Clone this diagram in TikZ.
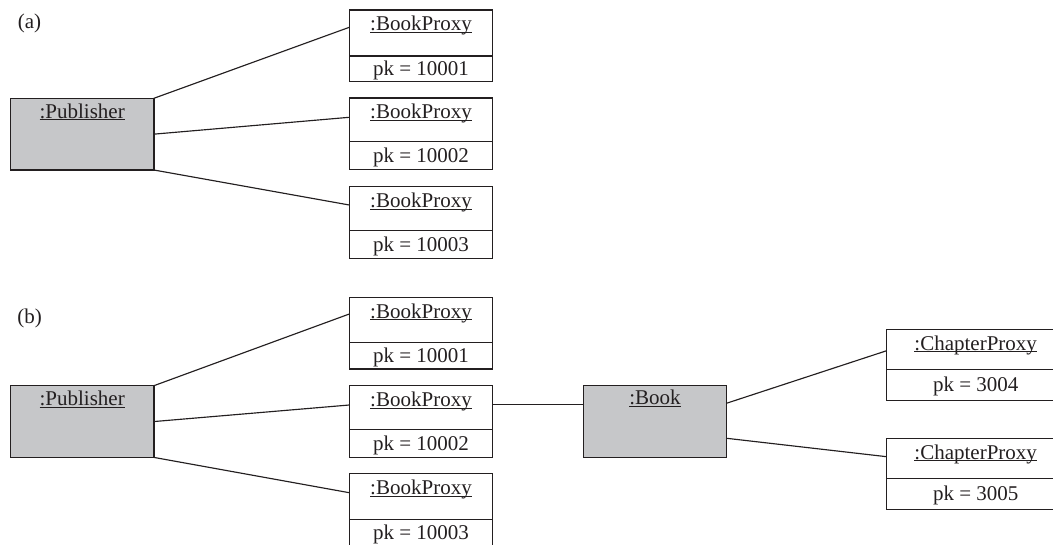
\documentclass[tikz,border=0pt]{standalone}
\usepackage{fontspec}
\setmainfont{Liberation Serif}
\usetikzlibrary{calc}

\definecolor{ink}{RGB}{35,31,32}
\definecolor{objgray}{RGB}{198,199,201}

% object name with a fixed-depth underline
\newcommand\objname[1]{\setbox0\hbox{#1}\rlap{\rule[-1.9pt]{\wd0}{0.8pt}}\box0}

% class box with a name section and a value section
% #1 style, #2 name, #3 centre x, #4 top y, #5 divider offset, #6 title, #7 value
\newcommand\proxybox[7]{%
  \node[#1, anchor=north] (#2) at (#3,#4) {};
  \draw[box] ([yshift=-#5pt]#2.north west) -- ([yshift=-#5pt]#2.north east);
  \node[title] (#2-t) at ([yshift=-20.7pt]#2.north) {\objname{#6}};
  \node[value] (#2-v) at ([yshift=-7pt]$(#2.south)!0.5!([yshift=-#5pt]#2.north)$) {#7};
}

\tikzset{
  box/.style={draw=ink, line width=1.3pt},
  objbox/.style={box, rectangle, inner sep=0pt, outer sep=0pt,
    minimum width=143.4pt, minimum height=71.7pt},
  proxy/.style={objbox},
  chproxy/.style={objbox, minimum width=178pt, minimum height=71pt},
  entity/.style={objbox, fill=objgray},
  title/.style={anchor=base, inner sep=0pt, text=ink},
  value/.style={anchor=base, inner sep=0pt, text=ink},
  link/.style={draw=ink, line width=1.15pt},
  panel/.style={anchor=base, inner sep=0pt, text=ink},
}

\begin{document}
\begin{tikzpicture}[x=1pt, y=-1pt, font=\fontsize{21}{25}\selectfont]
\useasboundingbox (0,0) rectangle (1053,544);
\clip (0,0) rectangle (1053,544);

% ---------- (a) ----------
\node[panel] (lblA) at (29.5,28) {(a)};

\node[entity, anchor=north] (pubA) at (82.2,98.3) {};
\node[title] (pubA-t) at ([yshift=-20pt]pubA.north) {\objname{:Publisher}};

\proxybox{proxy}{bpA1}{421}{10}{46}{:BookProxy}{pk = 10001}
\proxybox{proxy}{bpA2}{421}{98}{43.3}{:BookProxy}{pk = 10002}
\proxybox{proxy}{bpA3}{421}{186.7}{44}{:BookProxy}{pk = 10003}

\draw[link] (pubA.north east) -- ([yshift=-17.3pt]bpA1.north west);
\draw[link] (pubA.east) -- ([yshift=-19.3pt]bpA2.north west);
\draw[link] (pubA.south east) -- ([yshift=-18.3pt]bpA3.north west);

% ---------- (b) ----------
\node[panel] (lblB) at (29.5,323) {(b)};

\node[entity, anchor=north] (pubB) at (82.2,385.7) {};
\node[title] (pubB-t) at ([yshift=-20pt]pubB.north) {\objname{:Publisher}};

\proxybox{proxy}{bpB1}{421}{297.3}{45.4}{:BookProxy}{pk = 10001}
\proxybox{proxy}{bpB2}{421}{385.7}{43.6}{:BookProxy}{pk = 10002}
\proxybox{proxy}{bpB3}{421}{473.7}{45.8}{:BookProxy}{pk = 10003}

\draw[link] (pubB.north east) -- ([yshift=-16.7pt]bpB1.north west);
\draw[link] (pubB.east) -- ([yshift=-19.3pt]bpB2.north west);
\draw[link] (pubB.south east) -- ([yshift=-19pt]bpB3.north west);

\node[entity, anchor=north] (book) at (655,385.7) {};
\node[title] (book-t) at ([yshift=-19pt]book.north) {\objname{:Book}};

\draw[link] ([yshift=-18.8pt]bpB2.north east) -- ([yshift=-18.8pt]book.north west);

\proxybox{chproxy}{cp1}{975.7}{329.3}{40}{:ChapterProxy}{pk = 3004}
\proxybox{chproxy}{cp2}{975.7}{438.3}{40}{:ChapterProxy}{pk = 3005}

\draw[link] ([yshift=-17.5pt]book.north east) -- ([yshift=-21.4pt]cp1.north west);
\draw[link] ([yshift=-52.6pt]book.north east) -- ([yshift=-18.4pt]cp2.north west);
\end{tikzpicture}
\end{document}
